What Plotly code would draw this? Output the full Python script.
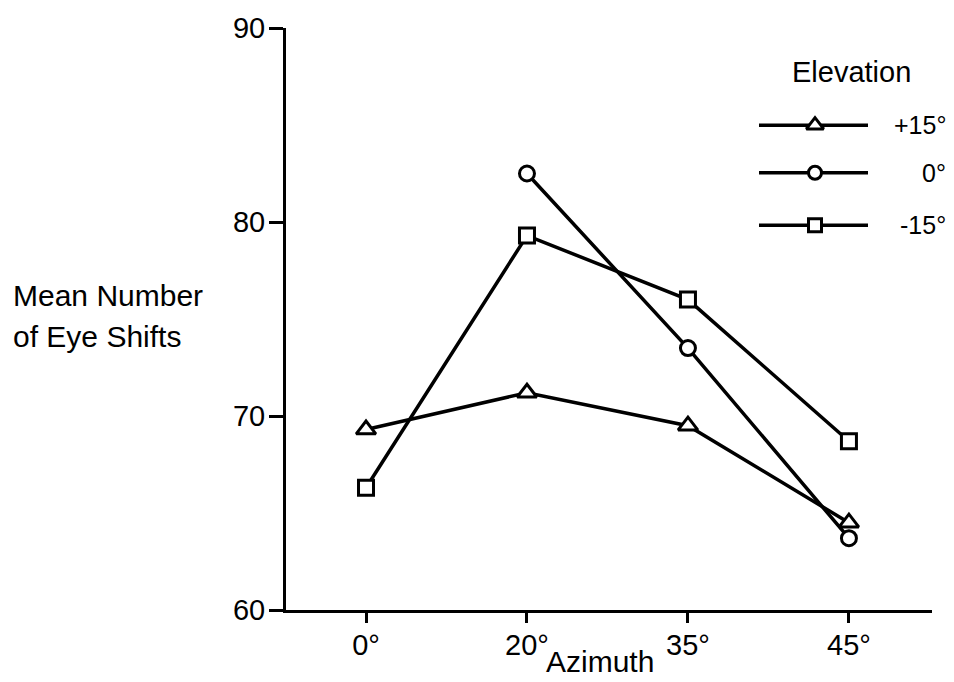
import plotly.graph_objects as go

# ---- data ----
azimuth = ["0°", "20°", "35°", "45°"]
elev_plus15 = [69.3, 71.2, 69.5, 64.5]
elev_zero = [None, 82.5, 73.5, 63.7]
elev_minus15 = [66.3, 79.3, 76.0, 68.7]
series_names = ["+15°", "0°", "-15°"]
y_ticks = [60, 70, 80, 90]

FONT = "Liberation Sans, Arial, Helvetica, sans-serif"
INK = "#000000"

W, H = 954, 682
L, R, T, B = 286, 22, 23, 72
PW, PH = W - L - R, H - T - B

def px_x(px):
    return (px - L) / PW

def px_y(py):
    return (H - B - py) / PH

fig = go.Figure()

series = [
    (elev_plus15, "triangle-up", 17),
    (elev_zero, "circle", 15),
    (elev_minus15, "square", 15),
]

for (vals, sym, sz), name in zip(series, series_names):
    fig.add_trace(go.Scatter(
        x=azimuth, y=vals, name=name, mode="lines+markers",
        line=dict(color=INK, width=3.5),
        marker=dict(symbol=sym, size=sz, color="white",
                    line=dict(color=INK, width=3)),
        showlegend=False, cliponaxis=False,
    ))

# ---- manual legend (overlay axes in plot-fraction coords) ----
leg_rows_y = [121, 169, 222]
leg_x0, leg_x1, leg_xm = 759, 868, 815
for (vals, sym, sz), name, ry in zip(series, series_names, leg_rows_y):
    fig.add_trace(go.Scatter(
        x=[px_x(leg_x0), px_x(leg_x1)], y=[px_y(ry), px_y(ry)],
        mode="lines", line=dict(color=INK, width=3.5),
        xaxis="x2", yaxis="y2", showlegend=False, hoverinfo="skip",
    ))
    fig.add_trace(go.Scatter(
        x=[px_x(leg_xm)], y=[px_y(ry)], mode="markers",
        marker=dict(symbol=sym, size=sz - 2, color="white",
                    line=dict(color=INK, width=3)),
        xaxis="x2", yaxis="y2", showlegend=False, hoverinfo="skip",
    ))
    fig.add_annotation(
        x=px_x(948), y=px_y(ry), xref="paper", yref="paper",
        text=name, showarrow=False, xanchor="right", yanchor="middle",
        font=dict(family=FONT, size=25, color=INK),
    )

fig.add_annotation(
    x=px_x(851), y=px_y(67), xref="paper", yref="paper",
    text="Elevation", showarrow=False, xanchor="center", yanchor="middle",
    font=dict(family=FONT, size=29, color=INK),
)

# axis titles
fig.add_annotation(
    x=px_x(600), y=px_y(681), xref="paper", yref="paper",
    text="Azimuth", showarrow=False, xanchor="center", yanchor="bottom",
    font=dict(family=FONT, size=30, color=INK),
)
fig.add_annotation(
    x=px_x(11), y=px_y(293), xref="paper", yref="paper",
    text="Mean Number", showarrow=False, xanchor="left", yanchor="middle",
    font=dict(family=FONT, size=30, color=INK),
)
fig.add_annotation(
    x=px_x(11), y=px_y(334), xref="paper", yref="paper",
    text="of Eye Shifts", showarrow=False, xanchor="left", yanchor="middle",
    font=dict(family=FONT, size=30, color=INK),
)

fig.update_layout(
    width=W, height=H,
    margin=dict(l=L, r=R, t=T, b=B, pad=0),
    paper_bgcolor="white", plot_bgcolor="white",
    font=dict(family=FONT, size=28, color=INK),
    xaxis=dict(
        type="category", range=[-0.497, 3.516],
        showline=True, linecolor=INK, linewidth=3,
        ticks="outside", ticklen=10, tickwidth=3, tickcolor=INK,
        showgrid=False, zeroline=False, ticklabelstandoff=-3,
        tickfont=dict(family=FONT, size=29, color=INK),
    ),
    yaxis=dict(
        range=[60, 90], tickvals=y_ticks,
        showline=True, linecolor=INK, linewidth=3,
        ticks="outside", ticklen=14, tickwidth=2.5, tickcolor=INK,
        showgrid=False, zeroline=False, ticklabelstandoff=-2,
        tickfont=dict(family=FONT, size=29, color=INK),
    ),
    xaxis2=dict(domain=[0, 1], range=[0, 1], overlaying="x", visible=False,
                fixedrange=True),
    yaxis2=dict(domain=[0, 1], range=[0, 1], overlaying="y", visible=False,
                fixedrange=True),
)

fig.write_html("out.html")
